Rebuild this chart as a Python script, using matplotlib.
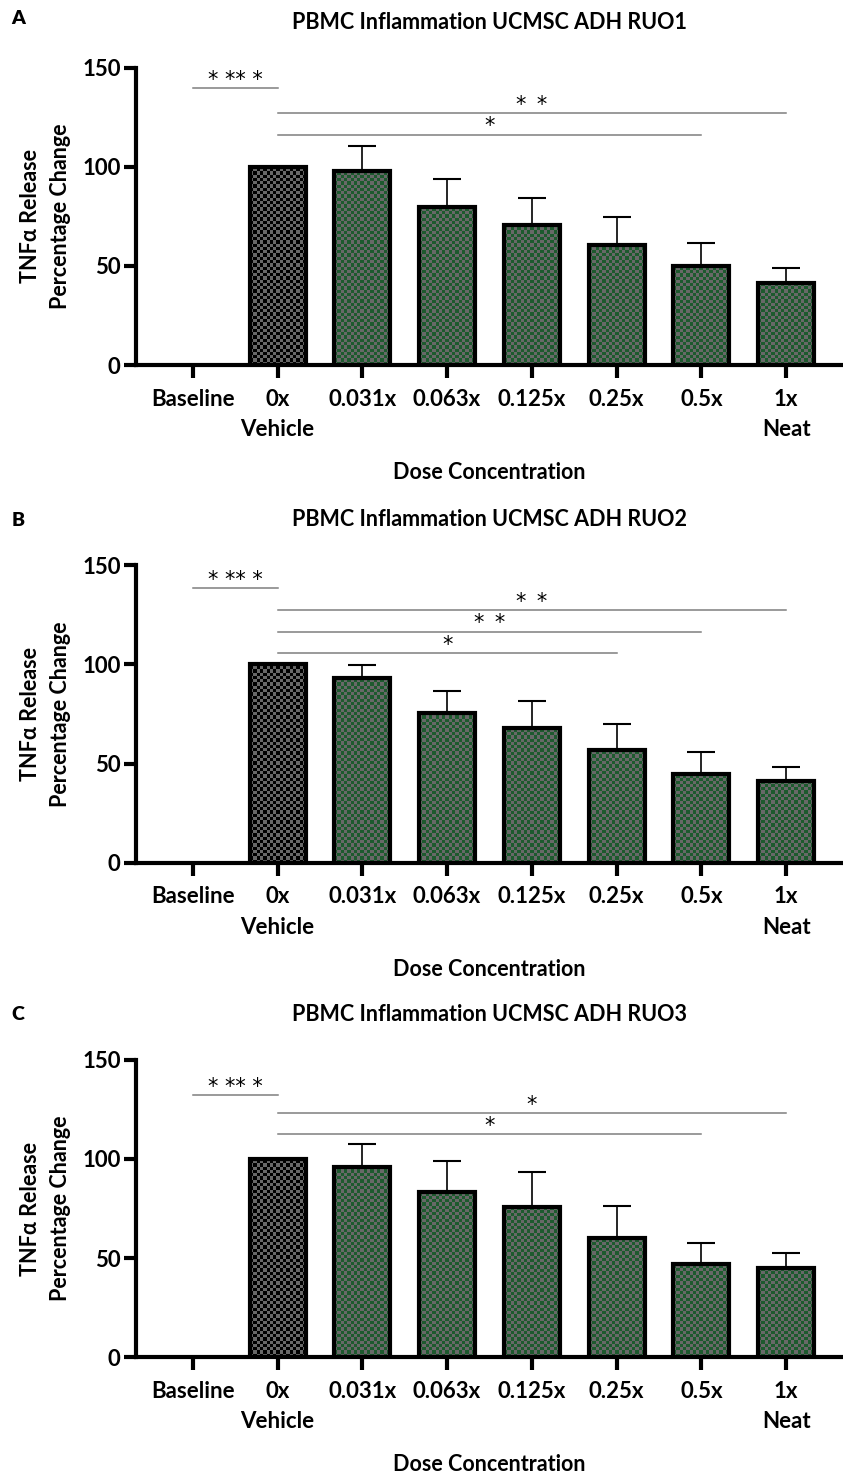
import matplotlib.pyplot as plt
import numpy as np
from matplotlib.colors import to_rgba

plt.rcParams['font.family'] = ['Lato', 'DejaVu Sans']
plt.rcParams['font.weight'] = 'bold'

doses = ['Baseline', '0x\nVehicle', '0.031x', '0.063x', '0.125x', '0.25x', '0.5x', '1x\nNeat']

# TNFa release as % of vehicle, mean and SEM (Baseline left empty)
ruo1_mean = [0, 100, 97.6, 79.6, 70.8, 60.7, 49.9, 41.2]
ruo1_sem = [0, 0, 12.9, 14.4, 13.2, 14.1, 11.4, 7.7]
ruo2_mean = [0, 100, 92.9, 75.4, 68.0, 56.7, 44.7, 41.0]
ruo2_sem = [0, 0, 6.9, 11.1, 13.6, 13.3, 11.1, 7.4]
ruo3_mean = [0, 100, 95.8, 83.2, 75.6, 60.0, 47.1, 44.9]
ruo3_sem = [0, 0, 11.5, 16.0, 18.0, 16.4, 10.5, 7.6]

# significance brackets: (from, to, height, stars)
ruo1_sig = [(0, 1, 139.5, '* ** *'), (1, 7, 127.0, '*\u2002*'), (1, 6, 116.2, '*')]
ruo2_sig = [(0, 1, 138.3, '* ** *'), (1, 7, 127.2, '*\u2002*'), (1, 6, 116.4, '*\u2002*'),
            (1, 5, 105.6, '*')]
ruo3_sig = [(0, 1, 132.0, '* ** *'), (1, 7, 123.2, '*'), (1, 6, 112.4, '*')]

titles = ['PBMC Inflammation UCMSC ADH RUO1',
          'PBMC Inflammation UCMSC ADH RUO2',
          'PBMC Inflammation UCMSC ADH RUO3']
letters = ['A', 'B', 'C']

GRAY = '#686868'
GREEN = '#1d5a2e'
W, H = 843, 1475


def checker(ax, bar, color, cw=0.039, ch=1.65):
    # checkerboard fill clipped to the bar rectangle
    x0, y0 = bar.get_x(), bar.get_y()
    w, h = bar.get_width(), bar.get_height()
    nx, ny = int(np.ceil(w / cw)), int(np.ceil(h / ch))
    grid = np.add.outer(np.arange(ny), np.arange(nx)) % 2
    img = np.zeros((ny, nx, 4))
    img[grid == 1] = to_rgba(color)
    im = ax.imshow(img, extent=(x0, x0 + nx * cw, y0, y0 + ny * ch), origin='lower',
                   interpolation='nearest', aspect='auto', zorder=1.5)
    im.set_clip_path(bar)


def panel(ax, means, sems, sig, title):
    x = np.arange(len(doses))
    for i in x:
        if means[i] == 0:
            continue
        b = ax.bar(x[i], means[i], width=0.66, color=GRAY, zorder=1)[0]
        checker(ax, b, 'black' if i == 1 else GREEN)
        ax.bar(x[i], means[i], width=0.66, fill=False, edgecolor='black',
               linewidth=3, zorder=3)
        if sems[i] > 0:
            ax.errorbar(x[i], means[i], yerr=[[0], [sems[i]]], fmt='none',
                        ecolor='black', elinewidth=1.2, capsize=10, capthick=1.5, zorder=2)

    for a, b, y, s in sig:
        ax.plot([a, b], [y, y], color='#7f7f7f', lw=1.1, clip_on=False)
        ax.text((a + b) / 2, y + 1.2, s, ha='center', va='baseline', fontsize=15,
                family='DejaVu Sans', fontweight='normal')

    ax.set_xlim(-0.67, 7.67)
    ax.set_ylim(0, 150)
    ax.set_yticks([0, 50, 100, 150])
    ax.set_xticks(x)
    ax.set_xticklabels(doses, fontsize=16, linespacing=1.55)
    ax.tick_params(axis='y', labelsize=16, length=9, width=3, pad=2)
    ax.tick_params(axis='x', length=9, width=3, pad=8)
    for side in ['top', 'right']:
        ax.spines[side].set_visible(False)
    for side in ['left', 'bottom']:
        ax.spines[side].set_linewidth(3)
    ax.set_title(title, fontsize=15.5, fontweight='bold', pad=28)
    ax.set_xlabel('Dose Concentration', fontsize=15.5, fontweight='bold')
    ax.xaxis.set_label_coords(0.5, -0.325)
    ax.set_ylabel('TNFα Release\nPercentage Change', fontsize=15.5, fontweight='bold',
                  linespacing=1.55)
    ax.yaxis.label.set_va('center')
    ax.yaxis.set_label_coords(-0.128, 0.5)


fig = plt.figure(figsize=(W / 100, H / 100), dpi=100)
left = 136 / W
bottoms = [365, 862.7, 1357.3]
data = [(ruo1_mean, ruo1_sem, ruo1_sig), (ruo2_mean, ruo2_sem, ruo2_sig),
        (ruo3_mean, ruo3_sem, ruo3_sig)]
letter_y = [18, 520, 1015]

for k in range(3):
    ax = fig.add_axes([left, 1 - bottoms[k] / H, 1 - left, 297.5 / H])
    m, s, sg = data[k]
    panel(ax, m, s, sg, titles[k])
    fig.text(18 / W, 1 - letter_y[k] / H, letters[k], fontsize=14, fontweight='heavy',
             ha='center', va='center')

fig.savefig('out.png', dpi=100)
